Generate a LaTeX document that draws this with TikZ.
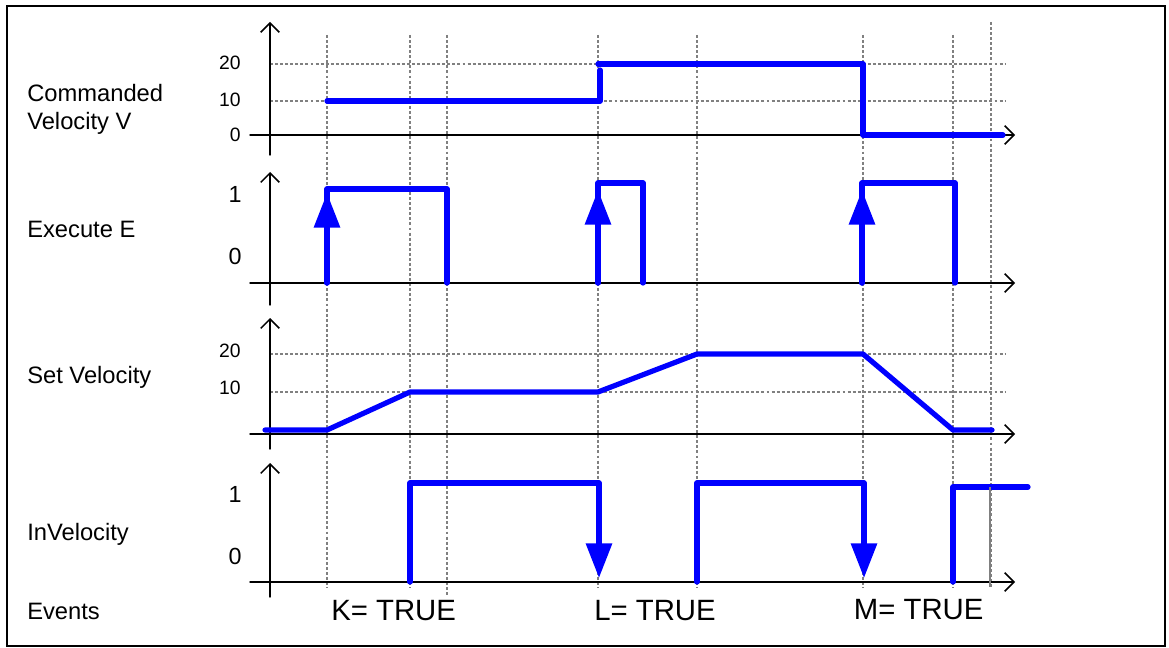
\documentclass[tikz,border=0pt]{standalone}
\usepackage{fontspec}
\setmainfont{Liberation Sans}
\usetikzlibrary{arrows.meta}

\begin{document}
\begin{tikzpicture}[x=0.75pt,y=-0.75pt,line cap=round,line join=round,
                    every node/.style={inner sep=0pt,font=\fontsize{17.8pt}{21pt}\selectfont},
                    axis/.style={line width=1.1pt,-{Straight Barb[length=7pt,width=14pt]}},
                    grid/.style={gray,line width=0.8pt,line cap=butt,dash pattern=on 2.2pt off 1.6pt},
                    sig/.style={blue,line width=3.9pt},
                    edge/.style={sig,-{Triangle[length=26pt,width=19pt]}},
                    tick/.style={anchor=base east,font=\fontsize{14.5pt}{17pt}\selectfont},
                    bit/.style={anchor=base,font=\fontsize{17.5pt}{20pt}\selectfont},
                    event/.style={anchor=base west,font=\fontsize{22pt}{26pt}\selectfont}]
% ---- 坐标（单位 px，原点=左上角，y 向下） ----
\coordinate (K) at (327,0);\coordinate (L) at (598,0);\coordinate (M) at (863,0);
% ---- 外框 ----
\draw[line width=1.5pt,line cap=butt,line join=miter] (7,6) rectangle (1165,646);
% ---- 网格：竖线贯穿四个通道 ----
\foreach \gx in {327,410,598,697,863,953}
  \draw[grid] (\gx,35) -- (\gx,588);
\draw[grid] (447,35) -- (447,595);
\draw[grid] (991,22) -- (991,588);
\foreach \gy in {64,101,354,392}
  \draw[grid] (270,\gy) -- (1005,\gy);
% ---- 坐标轴（每个通道一对）----
\draw[axis] (270,155) -- (270,22);  \draw[axis] (250,135) -- (1015,135);
\draw[axis] (270,305) -- (270,172); \draw[axis] (250,283) -- (1015,283);
\draw[axis] (270,449) -- (270,318); \draw[axis] (250,434) -- (1015,434);
\draw[axis] (270,597) -- (270,463); \draw[axis] (250,582) -- (1015,582);
% ---- 通道 1：指令速度 ----
\draw[sig] (327,101) -- (600,101) -- (600,70);
\draw[sig] (598,64) -- (863,64) -- (863,135) -- (1003,135);
% ---- 通道 2：Execute 上升沿 ----
\draw[sig] (327,283) -- (327,189) -- (447,189) -- (447,283);
\draw[edge] (327,283) -- (327,193);
\draw[sig] (598,283) -- (598,183) -- (643,183) -- (643,283);
\draw[edge] (598,283) -- (598,190);
\draw[sig] (862,283) -- (862,183) -- (955,183) -- (955,283);
\draw[edge] (862,283) -- (862,190);
% ---- 通道 3：设定速度（斜坡）----
\draw[sig] (265,430) -- (327,430) -- (410,392) -- (598,392) -- (697,354)
           -- (863,354) -- (953,430) -- (992,430);
% ---- 通道 4：InVelocity 下降沿 ----
\draw[edge] (410,582) -- (410,483) -- (599,483) -- (599,578);
\draw[edge] (697,582) -- (697,483) -- (864,483) -- (864,578);
\draw[sig] (953,582) -- (953,487) -- (1028,487);
\draw[gray,line width=0.9pt,line cap=butt] (990,487) -- (990,587);
% ---- 左侧通道名 ----
\node[anchor=base west] (cmd)  at (27,102) {Commanded};
\node[anchor=base west] (cmdv) at (27,130) {Velocity V};
\node[anchor=base west] (exe)  at (27,238) {Execute E};
\node[anchor=base west] (setv) at (27,383) {Set Velocity};
\node[anchor=base west] (inv)  at (27,540) {InVelocity};
\node[anchor=base west] (evt)  at (27,619) {Events};
% ---- 刻度 ----
\node[tick] (v20) at (241,70)  {20};
\node[tick] (v10) at (241,107) {10};
\node[tick] (v0)  at (241,142) {0};
\node[bit]  (e1)  at (235,203) {1};
\node[bit]  (e0)  at (235,265) {0};
\node[tick] (s20) at (241,357) {20};
\node[tick] (s10) at (241,394) {10};
\node[bit]  (i1)  at (235,502) {1};
\node[bit]  (i0)  at (235,564) {0};
% ---- 事件 ----
\node[event] (evK) at ([xshift=3]K |- 0,620) {K= TRUE};
\node[event] (evL) at ([xshift=-3]L |- 0,620) {L= TRUE};
\node[event] (evM) at ([xshift=-7]M |- 0,619) {M= TRUE};
% ---- 画布 ----
\pgfresetboundingbox
\path[use as bounding box] (0,0) rectangle (1169,648);
\end{tikzpicture}
\end{document}
